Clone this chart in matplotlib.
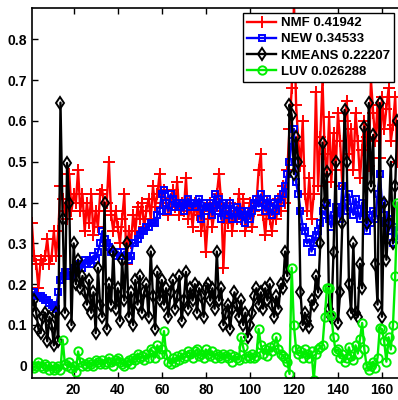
import numpy as np
import matplotlib
matplotlib.use("Agg")
import matplotlib.pyplot as plt

plt.rcParams["font.family"] = ["Liberation Sans", "DejaVu Sans"]
plt.rcParams["font.weight"] = "bold"

# values, index 1..167
nmf = [
    0.35, 0.27, 0.25, 0.19, 0.26, 0.25, 0.27, 0.31, 0.25, 0.27,
    0.33, 0.27, 0.33, 0.44, 0.41, 0.38, 0.36, 0.47, 0.38, 0.42,
    0.40, 0.48, 0.38, 0.42, 0.33, 0.40, 0.35, 0.42, 0.32, 0.38,
    0.34, 0.42, 0.43, 0.38, 0.40, 0.50, 0.37, 0.33, 0.38, 0.34,
    0.30, 0.36, 0.42, 0.25, 0.33, 0.30, 0.37, 0.33, 0.39, 0.36,
    0.40, 0.34, 0.38, 0.41, 0.36, 0.44, 0.39, 0.42, 0.47, 0.40,
    0.43, 0.40, 0.37, 0.41, 0.43, 0.39, 0.45, 0.37, 0.40, 0.38,
    0.46, 0.36, 0.40, 0.34, 0.40, 0.37, 0.39, 0.33, 0.38, 0.28,
    0.36, 0.40, 0.34, 0.38, 0.42, 0.47, 0.40, 0.24, 0.38, 0.35,
    0.40, 0.33, 0.38, 0.36, 0.42, 0.36, 0.41, 0.33, 0.37, 0.40,
    0.34, 0.38, 0.40, 0.48, 0.52, 0.37, 0.32, 0.40, 0.36, 0.33,
    0.38, 0.36, 0.41, 0.38, 0.44, 0.40, 0.48, 0.58, 0.68, 0.88,
    0.64, 0.55, 0.49, 0.60, 0.42, 0.38, 0.46, 0.36, 0.42, 0.67,
    0.44, 0.56, 0.70, 0.52, 0.47, 0.61, 0.45, 0.57, 0.48, 0.62,
    0.55, 0.44, 0.60, 0.65, 0.52, 0.58, 0.48, 0.62, 0.55, 0.46,
    0.53, 0.60, 0.56, 0.49, 0.70, 0.62, 0.55, 0.64, 0.51, 0.66,
    0.58, 0.63, 0.68, 0.55, 0.59, 0.66, 0.50,
]
new = [
    0.18, 0.18, 0.17, 0.17, 0.17, 0.165, 0.16, 0.16, 0.155, 0.15,
    0.145, 0.14, 0.18, 0.21, 0.22, 0.23, 0.22, 0.23, 0.22, 0.24,
    0.23, 0.24, 0.25, 0.24, 0.26, 0.25, 0.26, 0.25, 0.27, 0.26,
    0.28, 0.30, 0.33, 0.31, 0.30, 0.29, 0.28, 0.28, 0.27, 0.28,
    0.27, 0.27, 0.28, 0.27, 0.26, 0.27, 0.30, 0.30, 0.31, 0.32,
    0.33, 0.33, 0.34, 0.34, 0.35, 0.35, 0.35, 0.37, 0.38, 0.42,
    0.43, 0.40, 0.38, 0.42, 0.41, 0.39, 0.40, 0.39, 0.40, 0.38,
    0.40, 0.41, 0.39, 0.40, 0.39, 0.40, 0.41, 0.36, 0.40, 0.38,
    0.39, 0.40, 0.37, 0.42, 0.38, 0.41, 0.36, 0.40, 0.38, 0.37,
    0.40, 0.36, 0.38, 0.39, 0.36, 0.38, 0.37, 0.35, 0.38, 0.36,
    0.38, 0.40, 0.41, 0.39, 0.42, 0.40, 0.38, 0.41, 0.39, 0.37,
    0.40, 0.38, 0.41, 0.40, 0.42, 0.44, 0.47, 0.50, 0.55, 0.58,
    0.45, 0.42, 0.38, 0.34, 0.33, 0.30, 0.31, 0.28, 0.30, 0.32,
    0.33, 0.35, 0.38, 0.37, 0.40, 0.36, 0.34, 0.37, 0.39, 0.38,
    0.36, 0.44, 0.40, 0.38, 0.42, 0.39, 0.37, 0.41, 0.38, 0.36,
    0.40, 0.38, 0.33, 0.37, 0.35, 0.38, 0.36, 0.42, 0.47, 0.40,
    0.37, 0.35, 0.33, 0.36, 0.30, 0.34, 0.31,
]
kmeans = [
    0.15, 0.16, 0.13, 0.09, 0.08, 0.12, 0.13, 0.06, 0.12, 0.10,
    0.05, 0.13, 0.06, 0.645, 0.36, 0.13, 0.497, 0.40, 0.10, 0.30,
    0.20, 0.26, 0.19, 0.22, 0.18, 0.15, 0.21, 0.13, 0.18, 0.08,
    0.24, 0.15, 0.12, 0.40, 0.09, 0.20, 0.15, 0.28, 0.14, 0.19,
    0.11, 0.26, 0.16, 0.30, 0.12, 0.18, 0.10, 0.21, 0.15, 0.22,
    0.13, 0.18, 0.20, 0.12, 0.28, 0.17, 0.09, 0.23, 0.16, 0.21,
    0.15, 0.19, 0.12, 0.18, 0.21, 0.14, 0.17, 0.22, 0.11, 0.16,
    0.23, 0.14, 0.19, 0.16, 0.20, 0.13, 0.19, 0.17, 0.12, 0.19,
    0.20, 0.16, 0.19, 0.14, 0.28, 0.16, 0.19, 0.10, 0.13, 0.15,
    0.09, 0.14, 0.18, 0.15, 0.12, 0.16, 0.10, 0.13, 0.07, 0.10,
    0.13, 0.17, 0.19, 0.15, 0.18, 0.14, 0.19, 0.16, 0.20, 0.15,
    0.12, 0.17, 0.14, 0.20, 0.19, 0.28, 0.22, 0.64, 0.615, 0.47,
    0.56, 0.50, 0.18, 0.10, 0.13, 0.11, 0.096, 0.16, 0.15, 0.22,
    0.18, 0.30, 0.547, 0.40, 0.475, 0.14, 0.12, 0.28, 0.50, 0.105,
    0.18, 0.35, 0.627, 0.50, 0.20, 0.13, 0.30, 0.13, 0.12, 0.25,
    0.19, 0.586, 0.35, 0.644, 0.44, 0.566, 0.25, 0.15, 0.644, 0.12,
    0.40, 0.26, 0.35, 0.50, 0.30, 0.44, 0.60,
]
luv = [
    0.0, -0.005, 0.0, 0.01, 0.0, -0.005, 0.005, 0.0, -0.01, 0.0,
    -0.01, -0.005, 0.0, -0.01, 0.064, 0.005, 0.0, 0.01, -0.005, 0.0,
    -0.015, 0.035, 0.01, 0.0, 0.005, 0.0, 0.01, 0.005, 0.0, 0.015,
    0.01, 0.005, 0.015, 0.005, 0.01, 0.02, 0.01, 0.0, 0.015, 0.02,
    0.01, 0.005, 0.0, 0.01, 0.015, 0.005, 0.02, 0.015, 0.03, 0.02,
    0.025, 0.015, 0.03, 0.02, 0.04, 0.035, 0.02, 0.05, 0.03, 0.04,
    0.085, 0.03, 0.01, 0.005, 0.02, 0.01, 0.025, 0.015, 0.03, 0.02,
    0.025, 0.035, 0.03, 0.02, 0.035, 0.04, 0.025, 0.03, 0.02, 0.04,
    0.03, 0.025, 0.035, 0.02, 0.03, 0.025, 0.02, 0.03, 0.025, 0.02,
    0.03, 0.01, 0.025, 0.02, 0.015, 0.07, 0.045, 0.02, 0.025, 0.02,
    0.03, 0.02, 0.025, 0.09, 0.05, 0.03, 0.04, 0.025, 0.045, 0.035,
    0.05, 0.07, 0.04, 0.03, 0.025, 0.02, 0.01, -0.02, 0.24, 0.10,
    0.04, 0.03, 0.035, 0.02, 0.04, 0.03, 0.02, 0.035, -0.035, 0.03,
    0.04, 0.045, 0.05, 0.12, 0.19, 0.19, 0.125, 0.07, 0.035, 0.04,
    0.02, 0.03, 0.01, 0.02, 0.045, 0.025, 0.015, 0.05, 0.03, 0.065,
    0.105, 0.04, 0.0, -0.01, 0.0, 0.01, -0.005, 0.02, 0.093, 0.09,
    0.06, 0.01, 0.07, 0.04, 0.10, 0.22, 0.40,
]
labels = ["NMF 0.41942", "NEW 0.34533", "KMEANS 0.22207", "LUV 0.026288"]

x = np.arange(1, len(nmf) + 1)

fig = plt.figure(figsize=(3.98, 4.0), dpi=100)
ax = fig.add_axes([0.08, 0.055, 0.95, 0.925])

ax.plot(x, nmf, color="red", marker="+", ms=9, mew=1.4, lw=1.7, label=labels[0])
ax.plot(x, new, color="blue", marker="s", ms=5, mfc="none", mew=1.4, lw=1.7, label=labels[1])
ax.plot(x, kmeans, color="black", marker="d", ms=6, mfc="none", mew=1.4, lw=1.7, label=labels[2])
ax.plot(x, luv, color="#00ee00", marker="o", ms=6, mfc="none", mew=1.4, lw=1.7, label=labels[3])

ax.set_xlim(1, 172.7)
ax.set_ylim(-0.03, 0.877)
ax.set_xticks(range(20, 161, 20))
ax.set_yticks([0, 0.1, 0.2, 0.3, 0.4, 0.5, 0.6, 0.7, 0.8])
ax.set_yticklabels(["0", "0.1", "0.2", "0.3", "0.4", "0.5", "0.6", "0.7", "0.8"])
ax.tick_params(direction="in", top=True, right=True, labelsize=10, length=4, width=1)
for s in ax.spines.values():
    s.set_linewidth(1.2)

# legend sits inside the visible part of the figure (right edge is cropped)
leg = ax.legend(loc="upper right", bbox_to_anchor=(394 / 398, 1 - 13 / 400),
                bbox_transform=fig.transFigure, fontsize=9.5,
                frameon=True, fancybox=False, edgecolor="black", framealpha=1,
                handlelength=2.2, borderpad=0.3, labelspacing=0.3,
                handletextpad=0.35, borderaxespad=0)
leg.get_frame().set_linewidth(1)

fig.savefig("out.png", dpi=100)
